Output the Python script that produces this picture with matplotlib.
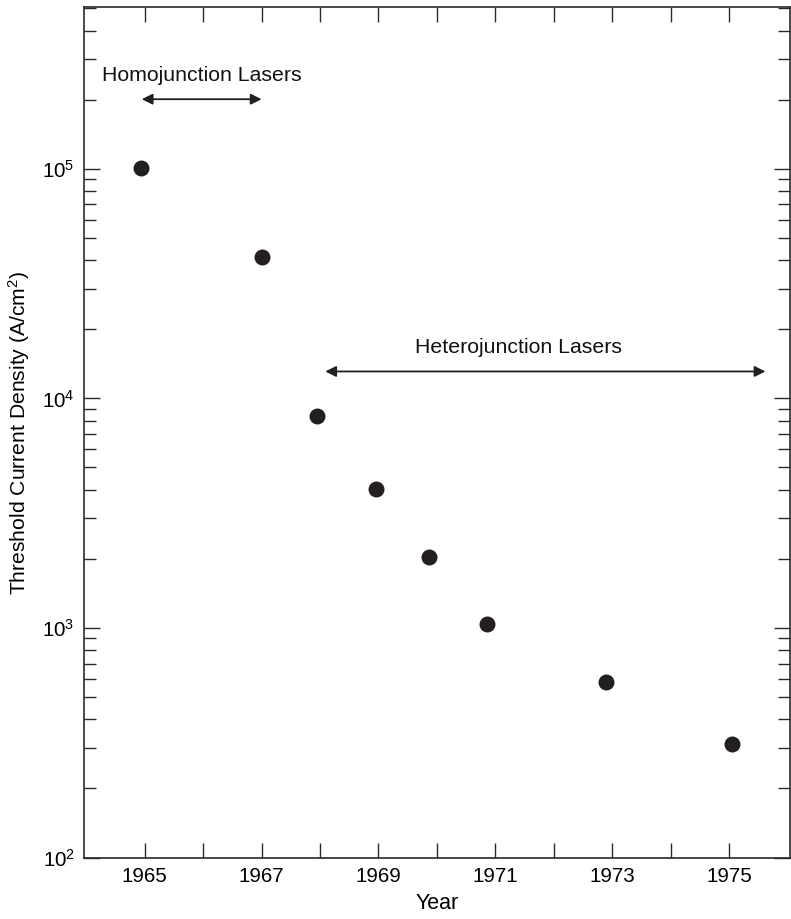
import math
import matplotlib
matplotlib.use("Agg")
import matplotlib.pyplot as plt
from matplotlib.ticker import FixedLocator, LogLocator, FuncFormatter, NullFormatter

plt.rcParams['font.family'] = ['Liberation Sans', 'DejaVu Sans']
plt.rcParams['mathtext.fontset'] = 'custom'
plt.rcParams['mathtext.rm'] = 'Liberation Sans'
plt.rcParams['mathtext.it'] = 'Liberation Sans:italic'

# Data
years = [1964.94, 1967.01, 1967.95, 1968.96, 1969.87, 1970.86, 1972.89, 1975.04]
density = [101000, 41400, 8370, 4040, 2040, 1040, 583, 312]
year_ticks = list(range(1965, 1976))
year_labels = [str(y) if y % 2 == 1 else "" for y in year_ticks]
homo_span = (1964.95, 1967.0)
hetero_span = (1968.09, 1975.62)

fig = plt.figure(figsize=(7.91, 9.19), dpi=100)
ax = fig.add_axes([0.1068, 0.0669, 0.9987 - 0.1068, 0.992 - 0.0669])

ax.plot(years, density, 'o', color='#231f20', markersize=11.5, markeredgewidth=0)

ax.set_yscale('log')
ax.set_xlim(1963.97, 1976.04)
ax.set_ylim(100, 5.05e5)

ax.xaxis.set_major_locator(FixedLocator(year_ticks))
ax.set_xticklabels(year_labels)
ax.yaxis.set_major_locator(LogLocator(base=10, numticks=10))
ax.yaxis.set_minor_locator(LogLocator(base=10, subs=range(2, 10), numticks=20))
ax.yaxis.set_major_formatter(FuncFormatter(lambda v, p: r'$\mathregular{10^{%d}}$' % round(math.log10(v))))
ax.yaxis.set_minor_formatter(NullFormatter())

spine_c = '#2a2a2a'
for s in ax.spines.values():
    s.set_color(spine_c)
    s.set_linewidth(1.2)

ax.tick_params(axis='x', which='major', direction='in', length=11, width=1.0,
               color=spine_c, top=True, labelsize=14.8, pad=7)
ax.tick_params(axis='y', which='major', direction='in', length=11.5, width=1.0,
               color=spine_c, right=True, labelsize=14.8, pad=7)
ax.tick_params(axis='y', which='minor', direction='in', length=8.6, width=1.0,
               color=spine_c, right=True)

ax.set_xlabel('Year', fontsize=15.5, labelpad=5)
ax.set_ylabel('Threshold Current Density (A/cm$^2$)', fontsize=15.2, labelpad=7)

arrow_kw = dict(arrowstyle='<|-|>', color='#231f20', lw=1.3, mutation_scale=16,
                shrinkA=0, shrinkB=0)
ax.annotate('', xy=(homo_span[0], 2.01e5), xytext=(homo_span[1], 2.01e5), arrowprops=arrow_kw)
ax.text(1965.97, 2.56e5, 'Homojunction Lasers', ha='center', va='center',
        fontsize=15.3, color='#111111')
ax.annotate('', xy=(hetero_span[0], 1.31e4), xytext=(hetero_span[1], 1.31e4), arrowprops=arrow_kw)
ax.text(1971.4, 1.66e4, 'Heterojunction Lasers', ha='center', va='center',
        fontsize=15.3, color='#111111')

fig.savefig('out.png', dpi=100)
